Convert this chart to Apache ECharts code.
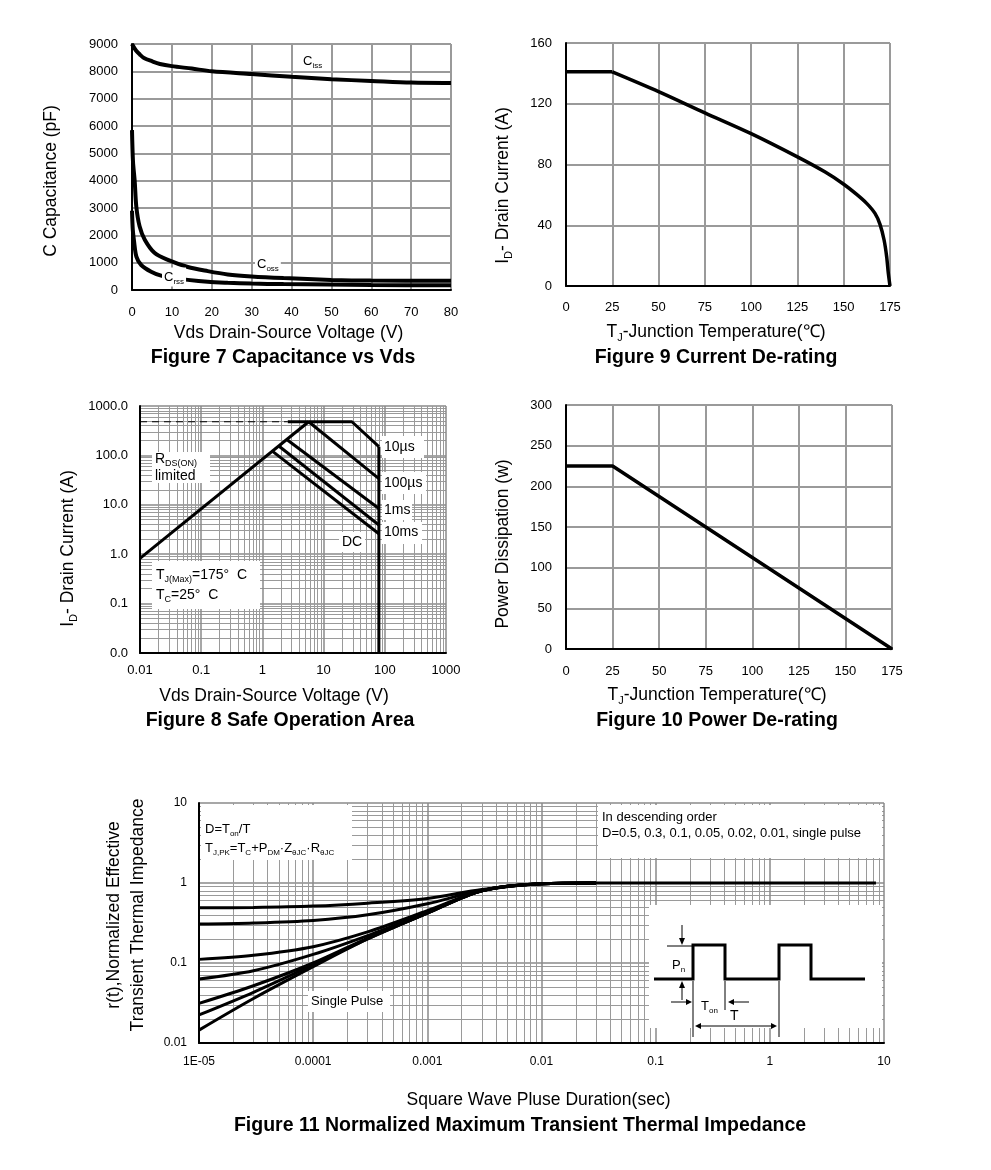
<!DOCTYPE html>
<html><head><meta charset="utf-8">
<script src="https://cdn.jsdelivr.net/npm/echarts@6/dist/echarts.min.js"></script>
<style>html,body{margin:0;padding:0;background:#fff}#c{width:991px;height:1170px}</style>
</head><body><div id="c"></div>
<script>
// ---------- Figure 7: Capacitance vs Vds ----------
const cissX = [0, 1, 2, 3, 5, 7, 10, 15, 20, 30, 40, 50, 60, 70, 80];
const cissY = [9000, 8760, 8610, 8490, 8370, 8270, 8190, 8100, 8000, 7900, 7800, 7710, 7650, 7590, 7575];
const cossX = [0, 0.25, 0.67, 1.08, 1.9, 3.2, 5.7, 9, 14, 19, 24, 30, 38, 50, 60, 80];
const cossY = [5850, 4700, 4000, 3050, 2330, 1840, 1350, 1100, 840, 690, 570, 495, 435, 370, 345, 340];
const crssX = [0, 0.2, 0.5, 1.1, 2.3, 4.8, 7.3, 10, 14, 19, 24, 30, 38, 60, 80];
const crssY = [2900, 2200, 1800, 1220, 915, 670, 525, 450, 370, 300, 265, 235, 215, 185, 170];

// ---------- Figure 9: Current De-rating ----------
const tempFlatX = [0, 25];
const currFlatY = [141, 141];
const tempX = [25, 50, 75, 100, 125, 140, 150, 157, 162.4, 166.9, 169.6, 171.8, 173.2, 174.1, 175];
const currY = [141, 128, 114, 100.3, 85, 75, 67, 60.3, 54.4, 47.8, 40.6, 30.3, 19.3, 8.3, 0];

// ---------- Figure 10: Power De-rating ----------
const pdX = [0, 25, 175];
const pdY = [225, 225, 0];

// ---------- Figure 8: Safe Operation Area ----------
const soaXTicks = ['0.01', '0.1', '1', '10', '100', '1000'];
const soaYTicks = ['0.0', '0.1', '1.0', '10.0', '100.0', '1000.0'];
const rdsLine = [[0.01, 0.82], [5.7, 480]];
const limitDash = [[0.01, 480], [2.6, 480]];
const line10us = [[2.6, 480], [29, 480], [80, 150]];
const line100us = [[5.7, 480], [80, 34]];
const line1ms = [[2.5, 210], [80, 8.4]];
const line10ms = [[1.85, 155], [80, 3.9]];
const lineDC = [[1.45, 122], [80, 2.6]];
const vdsMax = [[80, 150], [80, 0.01]];

// ---------- Figure 11: Transient Thermal Impedance ----------
const zthXTicks = ['1E-05', '0.0001', '0.001', '0.01', '0.1', '1', '10'];
const zthYTicks = ['0.01', '0.1', '1', '10'];
const pulseT = [1e-5, 3e-5, 1e-4, 3e-4, 1e-3, 3e-3, 1e-2, 3e-2];
const zD50 = [0.49, 0.495, 0.515, 0.56, 0.64, 0.83, 0.98, 1.0];
const zD30 = [0.307, 0.316, 0.34, 0.40, 0.55, 0.81, 0.98, 1.0];
const zD10 = [0.111, 0.125, 0.16, 0.245, 0.45, 0.80, 0.98, 1.0];
const zD05 = [0.063, 0.08, 0.128, 0.22, 0.43, 0.80, 0.98, 1.0];
const zD02 = [0.0313, 0.052, 0.10, 0.205, 0.42, 0.80, 0.98, 1.0];
const zD01 = [0.0224, 0.043, 0.095, 0.20, 0.42, 0.80, 0.98, 1.0];
const zSingle = [0.0145, 0.036, 0.09, 0.20, 0.42, 0.80, 0.98, 1.0];
const zFlatX = [0.03, 8.5];
const zFlatY = [1.0, 1.0];

// ---------------------------------------------------------------
const FONT = "'Liberation Sans', Arial, sans-serif";
const NARROW = "'Liberation Sans Narrow', 'Liberation Sans', Arial, sans-serif";
const zip = (xs, ys) => xs.map((x, i) => [x, ys[i]]);
const GRIDC = '#9a9a9a';

const grids = [
  {left: 132, top: 44, width: 319, height: 246},   // fig7
  {left: 566, top: 43, width: 324, height: 243},   // fig9
  {left: 140, top: 406, width: 306, height: 247},  // fig8
  {left: 566, top: 405, width: 326, height: 244},  // fig10
  {left: 199, top: 803, width: 685, height: 240}   // fig11
];

const NFS = 17.5;
const nameRich = {
  n: {fontSize: NFS, fontFamily: FONT, color: '#000', lineHeight: 22, verticalAlign: 'middle'},
  s: {fontSize: 11, fontFamily: FONT, color: '#000', lineHeight: 13, verticalAlign: 'bottom'}
};

function nameStyle(pad, lh) {
  return {fontSize: NFS, fontFamily: FONT, color: '#000', rich: nameRich, padding: pad, lineHeight: lh || 22};
}
function linAxis(gi, min, max, interval, name, nameGap, margin, pad, fontFam) {
  return {
    type: 'value', gridIndex: gi, min, max, interval,
    name, nameLocation: 'middle', nameGap, nameTextStyle: nameStyle(pad),
    axisLine: {show: true, lineStyle: {color: '#000', width: 2}},
    axisTick: {show: false},
    axisLabel: {color: '#000', fontSize: 13, fontFamily: fontFam || FONT, margin, formatter: v => String(v)},
    splitLine: {show: true, lineStyle: {color: GRIDC, width: 2}}
  };
}
function logAxis(gi, min, max, ticks, name, nameGap, margin, fontSize, pad, lh) {
  return {
    type: 'log', logBase: 10, gridIndex: gi, min, max,
    name, nameLocation: 'middle', nameGap, nameTextStyle: nameStyle(pad, lh),
    axisLine: {show: true, lineStyle: {color: '#000', width: 2}},
    axisTick: {show: false},
    axisLabel: {color: '#000', fontSize, fontFamily: NARROW, margin,
      formatter: v => ticks[Math.round(Math.log10(v) - Math.log10(min))]},
    splitLine: {show: true, lineStyle: {color: '#8a8a8a', width: 1.5}},
    minorTick: {show: false, splitNumber: 9},
    minorSplitLine: {show: true, lineStyle: {color: '#9a9a9a', width: 1}}
  };
}

function ln(xi, data, width, extra) {
  return Object.assign({
    type: 'line', xAxisIndex: xi, yAxisIndex: xi, data, showSymbol: false, symbol: 'none',
    lineStyle: {color: '#000', width}, z: 3, silent: true
  }, extra || {});
}

const TJ = '{n|T}{s|J}{n|-Junction Temperature(℃)}';
const ID = '{n|I}{s|D}{n|- Drain Current (A)}';
const xAxes = [
  linAxis(0, 0, 80, 10, 'Vds Drain-Source Voltage (V)', 32, 16, [0, 6, 0, 0]),
  linAxis(1, 0, 175, 25, TJ, 35, 15, [0, 24, 0, 0], NARROW),
  logAxis(2, 0.01, 1000, soaXTicks, 'Vds Drain-Source Voltage (V)', 32, 11, 13, [0, 38, 0, 0]),
  linAxis(3, 0, 175, 25, TJ, 35, 16, [0, 24, 0, 0], NARROW),
  logAxis(4, 1e-5, 10, zthXTicks, 'Square Wave Pluse Duration(sec)', 46, 13, 12, [0, 6, 0, 0])
];
const yAxes = [
  linAxis(0, 0, 9000, 1000, 'C Capacitance (pF)', 70, 14, [0, 28, 0, 0]),
  linAxis(1, 0, 160, 40, ID, 52, 14, [0, 42, 0, 0], NARROW),
  logAxis(2, 0.01, 1000, soaYTicks, ID, 61, 12, 13, [0, 38, 0, 0]),
  linAxis(3, 0, 300, 50, 'Power Dissipation (w)', 52, 14, [0, 34, 0, 0], NARROW),
  logAxis(4, 0.01, 10, zthYTicks, 'r(t),Normalized Effective\nTransient Thermal Impedance', 49, 12, 12, [0, 0, 0, 16], 24)
];

const SM = {smooth: 0.3};
const series = [
  ln(0, zip(cissX, cissY), 4, SM),
  ln(0, zip(cossX, cossY), 4, SM),
  ln(0, zip(crssX, crssY), 4, SM),

  ln(1, zip(tempFlatX, currFlatY), 3.5),
  ln(1, zip(tempX, currY), 3.5, SM),

  ln(2, rdsLine, 3),
  ln(2, limitDash, 1.2, {lineStyle: {color: '#000', width: 1.2, type: [7, 5]}}),
  ln(2, line10us, 3),
  ln(2, line100us, 3),
  ln(2, line1ms, 3),
  ln(2, line10ms, 3),
  ln(2, lineDC, 3),
  ln(2, vdsMax, 3),

  ln(3, zip(pdX, pdY), 3.5),

  ln(4, zip(pulseT, zD50), 3, SM),
  ln(4, zip(pulseT, zD30), 3, SM),
  ln(4, zip(pulseT, zD10), 3, SM),
  ln(4, zip(pulseT, zD05), 3, SM),
  ln(4, zip(pulseT, zD02), 3, SM),
  ln(4, zip(pulseT, zD01), 3, SM),
  ln(4, zip(pulseT, zSingle), 3, SM),
  ln(4, zip(zFlatX, zFlatY), 3)
];

// ---------- graphic annotations ----------
const subRich = (fs, sfs, fam) => ({
  n: {fontSize: fs, fontFamily: fam, color: '#000', lineHeight: fs + 4, verticalAlign: 'middle'},
  s: {fontSize: sfs, fontFamily: fam, color: '#000', lineHeight: sfs + 2, verticalAlign: 'bottom'}
});
function txt(x, y, text, o) {
  o = o || {};
  return {
    type: 'text', x, y, z: 10, silent: true,
    style: Object.assign({
      text, fill: '#000', font: (o.size || 13) + 'px ' + (o.fam || FONT),
      align: o.align || 'left', verticalAlign: 'middle',
      rich: subRich(o.size || 13, o.sub || 9, o.fam || FONT)
    }, o.style || {})
  };
}
function box(x, y, w, h) {
  return {type: 'rect', z: 1, silent: true, shape: {x, y, width: w, height: h}, style: {fill: '#fff'}};
}
function pl(points, w) {
  return {type: 'polyline', z: 10, silent: true, shape: {points}, style: {stroke: '#000', lineWidth: w, fill: null}};
}
function tri(points) {
  return {type: 'polygon', z: 10, silent: true, shape: {points}, style: {fill: '#000'}};
}
const bold = (x, y, t) => ({type: 'text', x, y, z: 10, silent: true,
  style: {text: t, fill: '#000', font: 'bold 19.5px ' + FONT, align: 'center', verticalAlign: 'middle'}});

const graphic = [
  bold(283, 358, 'Figure 7 Capacitance vs Vds'),
  bold(716, 358, 'Figure 9 Current De-rating'),
  bold(280, 721, 'Figure 8 Safe Operation Area'),
  bold(717, 721, 'Figure 10 Power De-rating'),
  bold(520, 1126, 'Figure 11 Normalized Maximum Transient Thermal Impedance'),

  txt(303, 61, '{n|C}{s|iss}', {size: 13, sub: 8}),
  txt(255, 264, '{n|C}{s|oss}', {size: 13, sub: 8, style: {backgroundColor: '#fff', padding: [1, 2]}}),
  txt(162, 277, '{n|C}{s|rss}', {size: 13, sub: 8, style: {backgroundColor: '#fff', padding: [1, 2]}}),

  box(152, 452, 58, 31),
  txt(155, 459, '{n|R}{s|DS(ON)}', {size: 14, sub: 9, fam: NARROW}),
  txt(155, 476, '{n|limited}', {size: 14, sub: 9, fam: NARROW}),
  box(152, 561, 108, 48),
  txt(156, 575, '{n|T}{s|J(Max)}{n|=175°  C}', {size: 14, sub: 9, fam: NARROW}),
  txt(156, 595, '{n|T}{s|C}{n|=25°  C}', {size: 14, sub: 9, fam: NARROW}),
  box(382, 436, 42, 22),
  txt(384, 447, '{n|10µs}', {size: 14, fam: NARROW}),
  box(382, 472, 44, 22),
  txt(384, 483, '{n|100µs}', {size: 14, fam: NARROW}),
  box(382, 500, 30, 20),
  txt(384, 510, '{n|1ms}', {size: 14, fam: NARROW}),
  box(382, 522, 40, 22),
  txt(384, 532, '{n|10ms}', {size: 14, fam: NARROW}),
  box(339, 532, 26, 20),
  txt(342, 542, '{n|DC}', {size: 14, fam: NARROW}),

  box(201, 805, 151, 55),
  txt(205, 829, '{n|D=T}{s|on}{n|/T}', {size: 13, sub: 8, fam: NARROW}),
  txt(205, 848, '{n|T}{s|J,PK}{n|=T}{s|C}{n|+P}{s|DM}{n|·Z}{s|θJC}{n|·R}{s|θJC}', {size: 13, sub: 8, fam: NARROW}),
  box(598, 805, 284, 53),
  txt(602, 817, '{n|In descending order}', {size: 13, fam: NARROW}),
  txt(602, 833, '{n|D=0.5, 0.3, 0.1, 0.05, 0.02, 0.01, single pulse}', {size: 13, fam: NARROW}),
  box(308, 991, 82, 21),
  txt(311, 1001, '{n|Single Pulse}', {size: 13, fam: NARROW}),
  box(649, 905, 233, 123),

  pl([[654, 979], [693, 979], [693, 945], [725, 945], [725, 979], [779, 979], [779, 945], [811, 945], [811, 979], [865, 979]], 3),
  pl([[667, 946], [692, 946]], 1),
  pl([[693, 981], [693, 1037]], 1),
  pl([[725, 981], [725, 1010]], 1),
  pl([[779, 981], [779, 1037]], 1),
  pl([[682, 925], [682, 939]], 1), tri([[679, 938], [685, 938], [682, 945]]),
  pl([[682, 1000], [682, 987]], 1), tri([[679, 988], [685, 988], [682, 981]]),
  pl([[671, 1002], [687, 1002]], 1), tri([[686, 999], [686, 1005], [692, 1002]]),
  pl([[749, 1002], [733, 1002]], 1), tri([[734, 999], [734, 1005], [728, 1002]]),
  pl([[699, 1026], [773, 1026]], 1), tri([[701, 1023], [701, 1029], [695, 1026]]), tri([[771, 1023], [771, 1029], [777, 1026]]),
  txt(672, 965, '{n|P}{s|n}', {size: 13, sub: 8, fam: NARROW}),
  txt(701, 1006, '{n|T}{s|on}', {size: 13, sub: 8, fam: NARROW}),
  txt(730, 1016, '{n|T}', {size: 14, fam: NARROW})
];

const chart = echarts.init(document.getElementById('c'), null, {renderer: 'canvas'});
chart.setOption({
  animation: false,
  backgroundColor: '#fff',
  grid: grids,
  xAxis: xAxes,
  yAxis: yAxes,
  series,
  graphic
});
</script>
</body></html>
